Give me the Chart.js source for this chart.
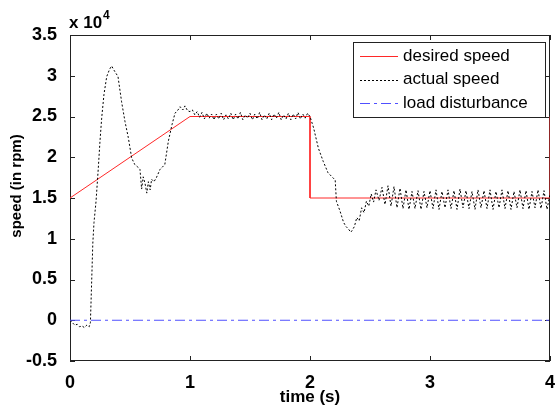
<!DOCTYPE html>
<html>
<head>
<meta charset="utf-8">
<script src="https://cdn.jsdelivr.net/npm/chart.js@4.4.1/dist/chart.umd.min.js"></script>
<style>
	html, body { margin: 0; padding: 0; background: #fff; }
	#wrap { width: 556px; height: 414px; }
</style>
</head>
<body>
<div id="wrap"><canvas id="speed-chart"></canvas></div>
<script>
// values in units of 10^4 rpm, time in seconds
var desired_t = [0, 1, 2, 2, 4, 4];
var desired_v = [1.5, 2.5, 2.5, 1.5, 1.5, 2.5];

var load_t = [0, 4];
var load_v = [0, 0];

var actual_t = [
	0, 0.02, 0.04, 0.06, 0.08, 0.10, 0.12, 0.14, 0.16, 0.17, 0.18, 0.19, 0.20, 0.217, 0.236, 0.25, 0.264, 0.283, 0.306, 0.33,
	0.347, 0.37, 0.40, 0.43, 0.458, 0.486, 0.514, 0.54, 0.565, 0.583, 0.597, 0.61, 0.625, 0.64, 0.653, 0.668, 0.68, 0.70, 0.72, 0.75,
	0.79, 0.82, 0.85, 0.875, 0.90, 0.917, 0.94, 0.958, 0.98, 1.0,
	1.02, 1.04, 1.06, 1.08, 1.10, 1.12, 1.14, 1.16, 1.18, 1.20, 1.22, 1.24, 1.26, 1.28, 1.30, 1.32, 1.34, 1.36, 1.38, 1.40,
	1.42, 1.44, 1.46, 1.48, 1.50, 1.52, 1.54, 1.56, 1.58, 1.60, 1.62, 1.64, 1.66, 1.68, 1.70, 1.72, 1.74, 1.76, 1.78, 1.80,
	1.82, 1.84, 1.86, 1.88, 1.90, 1.92, 1.94, 1.96, 1.98, 2.00,
	2.03, 2.07, 2.11, 2.15, 2.19, 2.21, 2.22, 2.25, 2.28, 2.30, 2.32, 2.34, 2.35, 2.37, 2.39, 2.41, 2.43, 2.45, 2.47, 2.49,
	2.51, 2.53, 2.55, 2.575, 2.60, 2.625,
	2.65, 2.675, 2.70, 2.725, 2.75, 2.775, 2.80, 2.825, 2.85, 2.875, 2.90, 2.925, 2.95, 2.975, 3.00, 3.025, 3.05, 3.075, 3.10, 3.125,
	3.15, 3.175, 3.20, 3.225, 3.25, 3.275, 3.30, 3.325, 3.35, 3.375, 3.40, 3.425, 3.45, 3.475, 3.50, 3.525, 3.55, 3.575, 3.60, 3.625,
	3.65, 3.675, 3.70, 3.725, 3.75, 3.775, 3.80, 3.825, 3.85, 3.875, 3.90, 3.925, 3.95, 3.975, 4.00
];
var actual_v = [
	0, -0.03, -0.06, -0.05, -0.08, -0.07, -0.09, -0.06, -0.08, -0.03, 0.45, 0.94, 1.2, 1.46, 1.87, 2.2, 2.48, 2.77, 2.99, 3.08,
	3.12, 3.06, 2.99, 2.68, 2.44, 2.24, 1.99, 1.91, 1.88, 1.85, 1.61, 1.76, 1.68, 1.56, 1.70, 1.60, 1.73, 1.70, 1.75, 1.85,
	1.91, 2.2, 2.4, 2.54, 2.58, 2.62, 2.58, 2.63, 2.57, 2.56,
	2.58, 2.52, 2.56, 2.49, 2.55, 2.47, 2.54, 2.48, 2.53, 2.46, 2.53, 2.47, 2.54, 2.46, 2.52, 2.47, 2.54, 2.46, 2.53, 2.47,
	2.55, 2.46, 2.52, 2.48, 2.54, 2.46, 2.53, 2.47, 2.55, 2.46, 2.52, 2.47, 2.54, 2.46, 2.53, 2.48, 2.55, 2.46, 2.52, 2.47,
	2.54, 2.46, 2.53, 2.47, 2.55, 2.47, 2.53, 2.48, 2.54, 2.50,
	2.36, 2.11, 1.95, 1.81, 1.75, 1.72, 1.46, 1.34, 1.20, 1.15, 1.12, 1.08, 1.10, 1.15, 1.26, 1.22, 1.38, 1.32, 1.46, 1.40,
	1.55, 1.45, 1.60, 1.47, 1.63, 1.42,
	1.65, 1.40, 1.64, 1.38, 1.62, 1.37, 1.60, 1.36, 1.58, 1.37, 1.59, 1.36, 1.58, 1.38, 1.59, 1.37, 1.60, 1.36, 1.58, 1.38,
	1.60, 1.37, 1.59, 1.36, 1.61, 1.38, 1.59, 1.37, 1.58, 1.36, 1.60, 1.38, 1.59, 1.37, 1.60, 1.36, 1.58, 1.38, 1.60, 1.37,
	1.59, 1.36, 1.58, 1.38, 1.60, 1.37, 1.59, 1.36, 1.58, 1.38, 1.60, 1.37, 1.59, 1.36, 1.55
];

var x_ticks = [0, 1, 2, 3, 4];
var y_ticks = [-0.5, 0, 0.5, 1, 1.5, 2, 2.5, 3, 3.5];

function pts(ts, vs) {
	return ts.map(function (t, i) { return { x: t, y: vs[i] }; });
}

var FONT = "'Liberation Sans', Arial, sans-serif";

/* frame and inward ticks, under the lines */
var matlabFrame = {
	id: 'matlabFrame',
	beforeDatasetsDraw: function (chart) {
		var ctx = chart.ctx;
		var a = chart.chartArea;
		var xs = chart.scales.x, ys = chart.scales.y;
		ctx.save();
		ctx.strokeStyle = '#222';
		ctx.lineWidth = 1;
		ctx.strokeRect(a.left + 0.5, a.top + 0.5, a.right - a.left - 1, a.bottom - a.top - 1);
		ctx.beginPath();
		x_ticks.forEach(function (t) {
			var px = Math.round(xs.getPixelForValue(t)) + 0.5;
			ctx.moveTo(px, a.bottom); ctx.lineTo(px, a.bottom - 5);
			ctx.moveTo(px, a.top); ctx.lineTo(px, a.top + 5);
		});
		y_ticks.forEach(function (v) {
			var py = Math.round(ys.getPixelForValue(v)) + 0.5;
			ctx.moveTo(a.left, py); ctx.lineTo(a.left + 5, py);
			ctx.moveTo(a.right, py); ctx.lineTo(a.right - 5, py);
		});
		ctx.stroke();
		ctx.restore();
	}
};

/* exponent, y label and legend box */
var matlabText = {
	id: 'matlabText',
	afterDraw: function (chart) {
		var ctx = chart.ctx;
		ctx.save();
		// x 10^4
		ctx.fillStyle = '#000';
		ctx.textBaseline = 'alphabetic';
		ctx.textAlign = 'left';
		ctx.font = 'bold 17px ' + FONT;
		ctx.fillText('x 10', 69, 28);
		ctx.font = 'bold 12px ' + FONT;
		ctx.fillText('4', 103, 19);

		// y axis label
		ctx.save();
		ctx.translate(17, 186);
		ctx.rotate(-Math.PI / 2);
		ctx.textAlign = 'center';
		ctx.textBaseline = 'middle';
		ctx.font = 'bold 15px ' + FONT;
		ctx.fillText('speed (in rpm)', 0, 0);
		ctx.restore();

		// legend
		var bx = 353, by = 42, bw = 192, bh = 75;
		ctx.fillStyle = '#fff';
		ctx.fillRect(bx, by, bw, bh);
		ctx.strokeStyle = '#222';
		ctx.lineWidth = 1;
		ctx.strokeRect(bx + 0.5, by + 0.5, bw, bh);
		[0, 1, 2].forEach(function (i) {
			var ds = chart.data.datasets[i];
			var cy = 56 + i * 23.5;
			ctx.beginPath();
			ctx.strokeStyle = ds.borderColor;
			ctx.setLineDash(ds.borderDash || []);
			ctx.moveTo(360, Math.round(cy) + 0.5);
			ctx.lineTo(398, Math.round(cy) + 0.5);
			ctx.stroke();
			ctx.setLineDash([]);
			ctx.fillStyle = '#000';
			ctx.font = '17px ' + FONT;
			ctx.textAlign = 'left';
			ctx.textBaseline = 'middle';
			ctx.fillText(ds.label, 403, cy);
		});
		ctx.restore();
	}
};

var ctx_speed = document.getElementById('speed-chart').getContext('2d');
new Chart(ctx_speed, {
	type: 'line',
	data: {
		datasets: [{
			label: 'desired speed',
			data: pts(desired_t, desired_v),
			borderColor: 'rgb(255, 40, 40)',
			borderWidth: 1,
			pointRadius: 0,
			tension: 0,
			order: 2
		}, {
			label: 'actual speed',
			data: pts(actual_t, actual_v),
			borderColor: '#000',
			borderWidth: 1,
			borderDash: [2, 2],
			pointRadius: 0,
			tension: 0,
			order: 1
		}, {
			label: 'load disturbance',
			data: pts(load_t, load_v),
			borderColor: 'rgb(80, 80, 255)',
			borderWidth: 1,
			borderDash: [10, 4, 3, 4],
			pointRadius: 0,
			tension: 0,
			order: 0
		}]
	},
	options: {
		responsive: true,
		maintainAspectRatio: false,
		animation: false,
		events: [],
		layout: { padding: { top: 35, right: 6, left: 0, bottom: 0 } },
		plugins: {
			legend: { display: false },
			tooltip: { enabled: false }
		},
		scales: {
			x: {
				type: 'linear',
				min: 0,
				max: 4,
				grid: { display: false },
				border: { display: false },
				afterFit: function (scale) {
					scale.height = 53;
					scale.paddingLeft = 0;
					scale.paddingRight = 0;
				},
				ticks: {
					stepSize: 1,
					padding: 3,
					color: '#000',
					maxRotation: 0,
					font: { family: FONT, size: 18, weight: 'bold' }
				},
				title: {
					display: true,
					text: 'time (s)',
					color: '#000',
					padding: { top: 0, bottom: 6 },
					font: { family: FONT, size: 17, weight: 'bold' }
				}
			},
			y: {
				type: 'linear',
				min: -0.5,
				max: 3.5,
				grid: { display: false },
				border: { display: false },
				afterFit: function (scale) { scale.width = 70; },
				ticks: {
					stepSize: 0.5,
					padding: 5,
					color: '#000',
					font: { family: FONT, size: 18, weight: 'bold' },
					callback: function (v) { return String(v); }
				}
			}
		}
	},
	plugins: [matlabFrame, matlabText]
});
</script>
</body>
</html>
